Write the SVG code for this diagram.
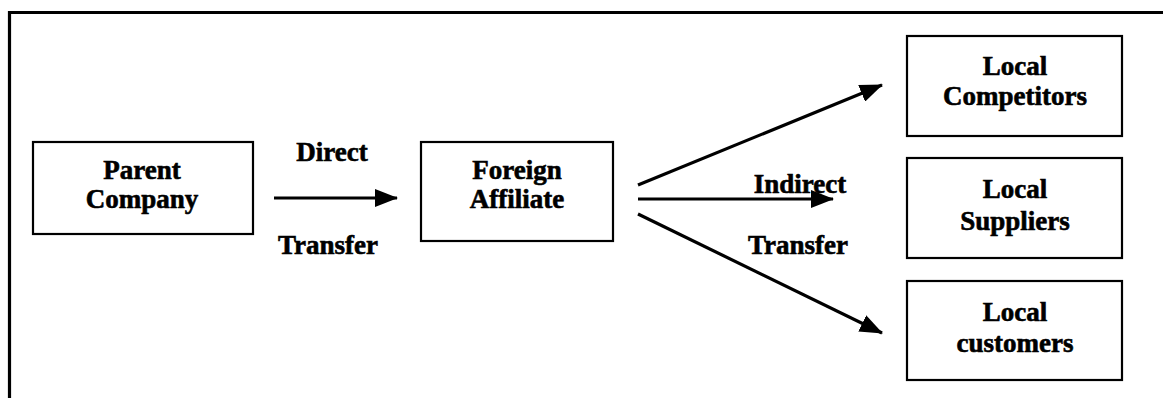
<svg xmlns="http://www.w3.org/2000/svg" width="1163" height="398" viewBox="0 0 1163 398">
  <style>
    .box { fill: #fff; stroke: #000; stroke-width: 2.2; }
    .lbl { font-family: "Liberation Serif", "Times New Roman", serif; font-weight: bold; font-size: 27px; fill: #000; stroke: #000; stroke-width: 0.6; text-anchor: middle; }
    .edge { stroke: #000; stroke-width: 3.2; fill: none; }
    .frame { stroke: #000; stroke-width: 3.2; fill: none; }
  </style>
  <defs>
    <marker id="head" markerUnits="userSpaceOnUse" markerWidth="24" markerHeight="18" refX="22" refY="9" orient="auto">
      <path d="M0,0 L23,9 L0,18 Z" fill="#000"/>
    </marker>
  </defs>

  <rect width="1163" height="398" fill="#fff"/>

  <!-- open frame: top and left rules only -->
  <path class="frame" d="M9.5,398 V12.5 H1163"/>

  <g id="parent-company">
    <rect class="box" x="33" y="142" width="220" height="92"/>
    <text class="lbl" x="142" y="179">Parent</text>
    <text class="lbl" x="142" y="208">Company</text>
  </g>

  <g id="foreign-affiliate">
    <rect class="box" x="421" y="142" width="192" height="99"/>
    <text class="lbl" x="517" y="179">Foreign</text>
    <text class="lbl" x="517" y="208">Affiliate</text>
  </g>

  <g id="local-competitors">
    <rect class="box" x="907" y="36" width="215" height="100"/>
    <text class="lbl" x="1015" y="75">Local</text>
    <text class="lbl" x="1015" y="105">Competitors</text>
  </g>

  <g id="local-suppliers">
    <rect class="box" x="907" y="158" width="215" height="100"/>
    <text class="lbl" x="1015" y="198">Local</text>
    <text class="lbl" x="1015" y="230">Suppliers</text>
  </g>

  <g id="local-customers">
    <rect class="box" x="907" y="281" width="215" height="99"/>
    <text class="lbl" x="1015" y="321">Local</text>
    <text class="lbl" x="1015" y="352">customers</text>
  </g>

  <g id="connectors">
    <line class="edge" x1="274" y1="198" x2="397" y2="198" marker-end="url(#head)"/>
    <line class="edge" x1="638" y1="185" x2="882" y2="85" marker-end="url(#head)"/>
    <line class="edge" x1="638" y1="199" x2="833" y2="199" marker-end="url(#head)"/>
    <line class="edge" x1="638" y1="214" x2="882" y2="333" marker-end="url(#head)"/>
  </g>

  <g id="edge-labels">
    <text class="lbl" x="332" y="161">Direct</text>
    <text class="lbl" x="328" y="254">Transfer</text>
    <text class="lbl" x="800" y="193">Indirect</text>
    <text class="lbl" x="798" y="254">Transfer</text>
  </g>
</svg>
